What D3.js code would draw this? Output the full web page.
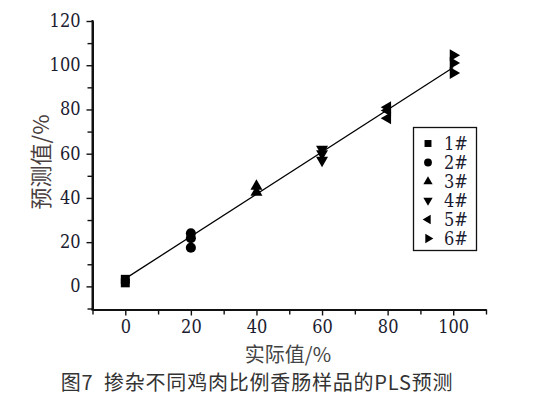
<!DOCTYPE html>
<html lang="zh">
<head>
<meta charset="UTF-8">
<title>PLS预测</title>
<style>
  body { margin: 0; background: #fff; }
  svg .num { font-family: 'DejaVu Serif Condensed', 'DejaVu Serif', serif; font-stretch: condensed; }
</style>
</head>
<body>
<script src="https://d3js.org/d3.v7.min.js"></script>
<script>
var width = 535, height = 398;
var cjk = '"Noto Sans CJK SC", sans-serif';

// 数据
var actual = [0, 20, 40, 60, 80, 100];
var seriesNames = ["1#", "2#", "3#", "4#", "5#", "6#"];
var predicted = [
    [3.2, 1.6],
    [24, 21.8, 17.5],
    [45.3, 42.6],
    [62, 60, 57],
    [81, 79.5, 76],
    [104.5, 101, 96.5]
];
var fitX = [0, 100];
var fitY = [3.5, 99];
var xTicks = [0, 20, 40, 60, 80, 100];
var xMinor = [-10, 10, 30, 50, 70, 90, 110];
var yTicks = [0, 20, 40, 60, 80, 100, 120];
var yMinor = [-10, 10, 30, 50, 70, 90, 110];

var x = d3.scaleLinear().domain([-10, 110]).range([92.5, 486]);
var y = d3.scaleLinear().domain([-10, 120]).range([308.5, 21]);

var svg = d3.select('body').append('svg').attr('width', width).attr('height', height);

// 符号：方形、圆、上三角、下三角、左三角、右三角
var symTypes = [d3.symbolSquare, d3.symbolCircle, d3.symbolTriangle, d3.symbolTriangle, d3.symbolTriangle, d3.symbolTriangle];
var symRot = [0, 0, 0, 180, -90, 90];
var symSize = [80, 80, 62, 62, 62, 62];

// 坐标轴
var xAxis = svg.append('g').attr('transform', 'translate(0,' + 309.5 + ')')
    .call(d3.axisBottom(x).tickValues(xTicks).tickSize(6).tickSizeOuter(0).tickPadding(5));
svg.append('g').attr('transform', 'translate(0,' + 309.5 + ')')
    .call(d3.axisBottom(x).tickValues(xMinor).tickSize(5).tickSizeOuter(0).tickFormat(''));
var yAxis = svg.append('g').attr('transform', 'translate(' + 92.5 + ',0)')
    .call(d3.axisLeft(y).tickValues(yTicks).tickSize(6).tickSizeOuter(0).tickPadding(6));
svg.append('g').attr('transform', 'translate(' + 92.5 + ',0)')
    .call(d3.axisLeft(y).tickValues(yMinor).tickSize(5).tickSizeOuter(0).tickFormat(''));

svg.selectAll('g').attr('font-family', null);
svg.selectAll('.domain').attr('stroke', '#111').attr('stroke-width', 2);
svg.selectAll('.tick line').attr('stroke', '#111').attr('stroke-width', 1.4);
svg.selectAll('.tick text')
    .attr('class', 'num')
    .attr('font-size', 18)
    .attr('fill', '#1c1c30');
yAxis.selectAll('.num').attr('dy', '0.3em');
xAxis.selectAll('.num').attr('dy', '0.72em');
// 延长轴线到交点
svg.append('line').attr('x1', 91.5).attr('x2', 93.5).attr('y1', 309.5).attr('y2', 309.5)
    .attr('stroke', '#111').attr('stroke-width', 2);
svg.append('line').attr('x1', 92.5).attr('x2', 92.5).attr('y1', 20).attr('y2', 310.5)
    .attr('stroke', '#111').attr('stroke-width', 2);

// 拟合线
svg.append('line')
    .attr('x1', x(fitX[0])).attr('y1', y(fitY[0]))
    .attr('x2', x(fitX[1])).attr('y2', y(fitY[1]))
    .attr('stroke', '#000').attr('stroke-width', 1.3);

// 数据点
predicted.forEach(function(vals, i) {
    svg.selectAll('.pt' + i)
        .data(vals)
        .enter()
        .append('path')
        .attr('class', 'pt' + i)
        .attr('d', d3.symbol().type(symTypes[i]).size(symSize[i]))
        .attr('transform', function(d) {
            return 'translate(' + x(actual[i]) + ',' + y(d) + ') rotate(' + symRot[i] + ')';
        })
        .attr('fill', '#000');
});

// 图例
var legend = svg.append('g');
legend.append('rect')
    .attr('x', 413.5).attr('y', 127.5).attr('width', 63).attr('height', 123)
    .attr('fill', '#fff').attr('stroke', '#111').attr('stroke-width', 1.3);
seriesNames.forEach(function(name, i) {
    var ly = 143.5 + i * 19;
    legend.append('path')
        .attr('d', d3.symbol().type(symTypes[i]).size(symSize[i] * 0.6))
        .attr('transform', 'translate(428,' + ly + ') rotate(' + symRot[i] + ')')
        .attr('fill', '#000');
    legend.append('text')
        .attr('class', 'num')
        .attr('x', 444).attr('y', ly + 6)
        .attr('font-size', 18).attr('fill', '#1c1c30')
        .text(name);
});

// 轴标题
svg.append('text')
    .attr('x', 288).attr('y', 362)
    .attr('text-anchor', 'middle')
    .attr('font-family', cjk)
    .attr('font-size', 20).attr('fill', '#444')
    .text('实际值/%');
svg.append('text')
    .attr('transform', 'translate(49,162) rotate(-90)')
    .attr('text-anchor', 'middle')
    .attr('font-family', cjk)
    .attr('font-size', 22).attr('fill', '#4a4040')
    .text('预测值/%');

// 图题
svg.append('text')
    .attr('x', 257).attr('y', 390)
    .attr('text-anchor', 'middle')
    .attr('font-family', cjk)
    .attr('font-size', 20).attr('fill', '#333')
    .attr('letter-spacing', 0.8)
    .attr('xml:space', 'preserve')
    .text('图7  掺杂不同鸡肉比例香肠样品的PLS预测');
</script>
</body>
</html>
